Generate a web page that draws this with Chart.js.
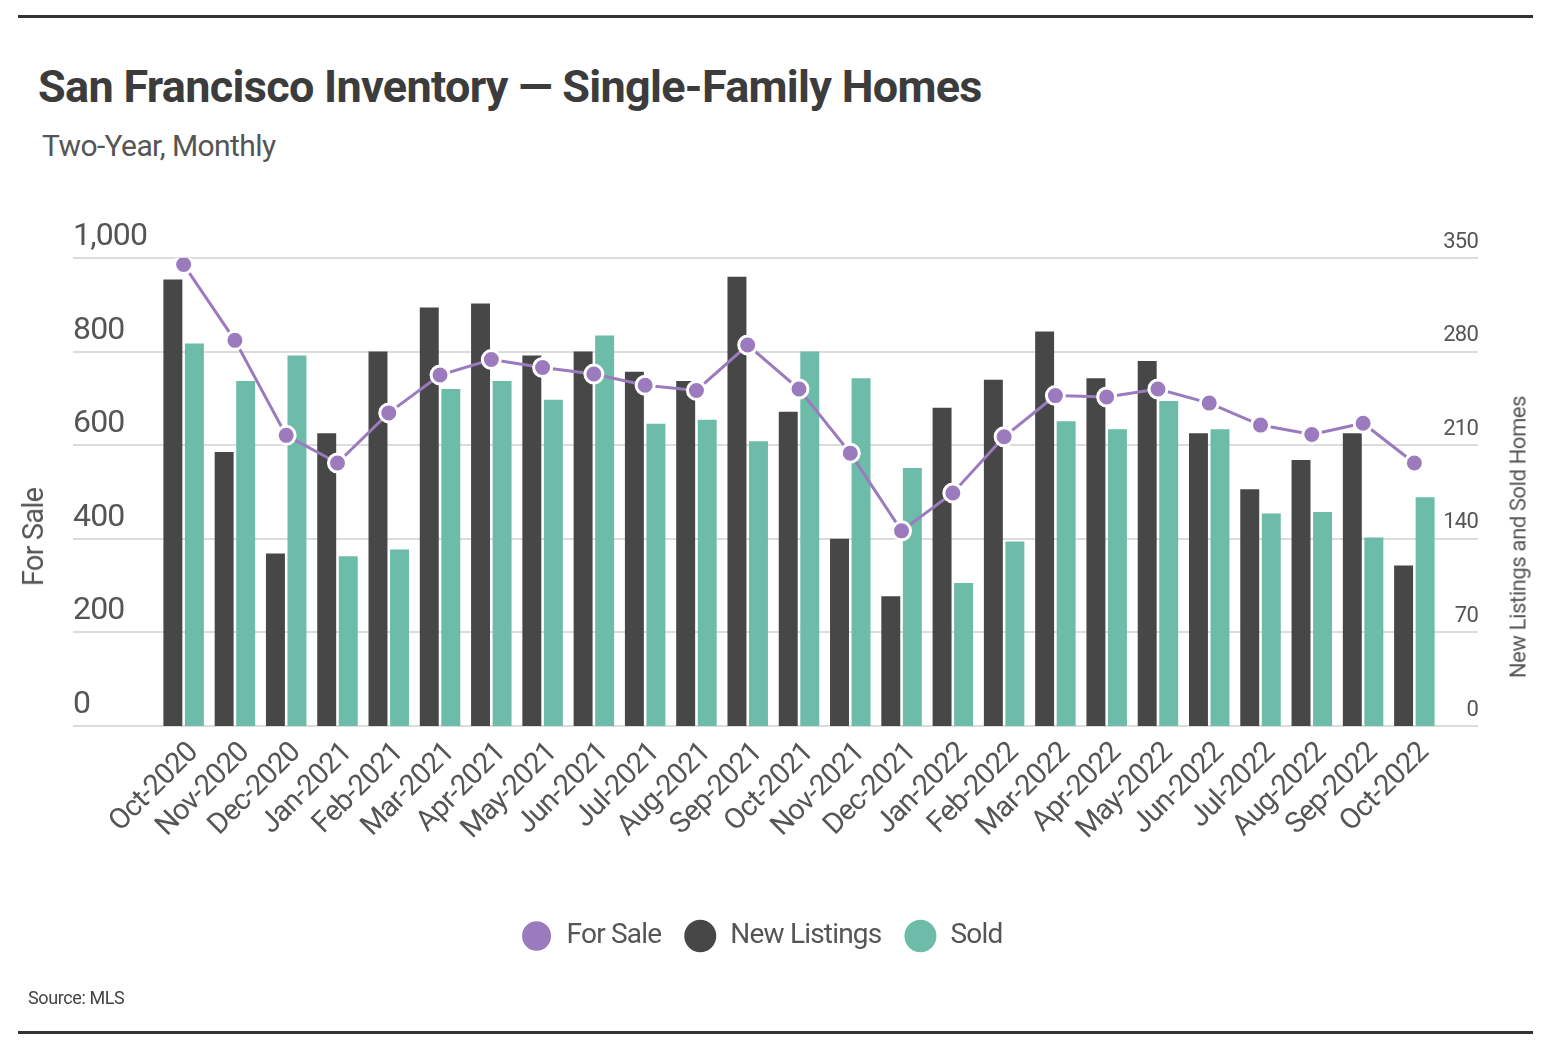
<!DOCTYPE html>
<html>
<head>
<meta charset="utf-8">
<script src="https://cdn.jsdelivr.net/npm/chart.js@4.4.0/dist/chart.umd.min.js"></script>
<style>
  html, body { margin: 0; padding: 0; background: #fff; }
  body { width: 1568px; height: 1062px; position: relative; overflow: hidden;
         font-family: Roboto, 'DejaVu Sans Condensed', sans-serif; }
  #wrap { position: absolute; left: 0; top: 0; width: 1568px; height: 1062px; }
  .rule { position: absolute; left: 18px; width: 1515px; height: 3px; background: #333; }
  #title { position: absolute; left: 38px; top: 60px; font-size: 45px; font-weight: bold; color: #3c3c3c; white-space: nowrap; letter-spacing: -0.7px; }
  #subtitle { position: absolute; left: 42px; top: 128px; font-size: 30px; color: #555; white-space: nowrap; letter-spacing: -0.6px; }
  #source { position: absolute; left: 28px; top: 987px; font-size: 18px; color: #444; white-space: nowrap; letter-spacing: -0.4px; }
  .ytitle { position: absolute; white-space: nowrap; color: #555; transform: translate(-50%, -50%) rotate(-90deg); }
  #ytitleL { left: 33px; top: 537px; font-size: 29px; letter-spacing: -0.8px; }
  #ytitleR { left: 1518px; top: 537px; font-size: 22px; letter-spacing: -0.4px; }
</style>
</head>
<body>
<div class="rule" style="top:15px"></div>
<div id="title">San Francisco Inventory — Single-Family Homes</div>
<div id="subtitle">Two-Year, Monthly</div>
<div id="wrap"><canvas id="c"></canvas></div>
<div class="ytitle" id="ytitleL">For Sale</div>
<div class="ytitle" id="ytitleR">New Listings and Sold Homes</div>
<div id="source">Source: MLS</div>
<div class="rule" style="top:1031px"></div>
<script>
const categories = ['Oct-2020','Nov-2020','Dec-2020','Jan-2021','Feb-2021','Mar-2021','Apr-2021','May-2021','Jun-2021','Jul-2021','Aug-2021','Sep-2021','Oct-2021','Nov-2021','Dec-2021','Jan-2022','Feb-2022','Mar-2022','Apr-2022','May-2022','Jun-2022','Jul-2022','Aug-2022','Sep-2022','Oct-2022'];
const forSale = [986, 824, 621, 562, 669, 750, 783, 766, 752, 728, 717, 814, 720, 583, 417, 498, 618, 706, 703, 720, 690, 643, 623, 647, 562];
const newListings = [334, 205, 129, 219, 280, 313, 316, 277, 280, 265, 258, 336, 235, 140, 97, 238, 259, 295, 260, 273, 219, 177, 199, 219, 120];
const sold = [286, 258, 277, 127, 132, 252, 258, 244, 292, 226, 229, 213, 280, 260, 193, 107, 138, 228, 222, 243, 222, 159, 160, 141, 171];
const leftTicks = { min: 0, max: 1000, step: 200 };
const rightTicks = { min: 0, max: 350, step: 70 };

const FONT = "Roboto, 'DejaVu Sans Condensed', sans-serif";
const LETTER_SPACING = '-0.8px';
const LEGEND_SHIFT = -14;

const spacingPlugin = {
  id: 'tightText',
  beforeUpdate(chart) { chart.ctx.letterSpacing = LETTER_SPACING; },
  beforeLayout(chart) { chart.ctx.letterSpacing = LETTER_SPACING; },
  afterLayout(chart) {
    if (chart.legend) { chart.legend.left += LEGEND_SHIFT; chart.legend.right += LEGEND_SHIFT; }
  },
  beforeDraw(chart) { chart.ctx.letterSpacing = LETTER_SPACING; }
};

const gridPlugin = {
  id: 'fullGrid',
  beforeDatasetsDraw(chart) {
    const y = chart.scales.y, y1 = chart.scales.y1;
    const ctx = chart.ctx;
    ctx.save();
    ctx.strokeStyle = '#dcdcdc';
    ctx.lineWidth = 2;
    y.ticks.forEach(t => {
      const py = Math.round(y.getPixelForValue(t.value));
      ctx.beginPath();
      ctx.moveTo(y.left, py);
      ctx.lineTo(y1.right, py);
      ctx.stroke();
    });
    ctx.restore();
  }
};

new Chart(document.getElementById('c'), {
  data: {
    labels: categories,
    datasets: [
      { type: 'line', label: 'For Sale', data: forSale, yAxisID: 'y', order: 0,
        borderColor: '#9b7bbd', backgroundColor: '#9b7bbd', borderWidth: 3,
        pointRadius: 9, pointBorderColor: '#ffffff', pointBorderWidth: 3,
        pointBackgroundColor: '#9b7bbd', tension: 0 },
      { type: 'bar', label: 'New Listings', data: newListings, yAxisID: 'y1', order: 1,
        backgroundColor: '#474747', categoryPercentage: 0.84, barPercentage: 0.88 },
      { type: 'bar', label: 'Sold', data: sold, yAxisID: 'y1', order: 2,
        backgroundColor: '#6dbba9', categoryPercentage: 0.84, barPercentage: 0.88 }
    ]
  },
  options: {
    responsive: true,
    maintainAspectRatio: false,
    animation: false,
    layout: { padding: { left: 73, right: 90, top: 258, bottom: 102 } },
    plugins: {
      tooltip: { enabled: false },
      legend: {
        position: 'bottom',
        labels: {
          usePointStyle: true, pointStyle: 'circle', pointStyleWidth: 32, boxHeight: 23,
          padding: 23, color: '#555', font: { family: FONT, size: 28 }
        }
      }
    },
    scales: {
      x: {
        grid: { display: false }, border: { display: false },
        ticks: { color: '#555', font: { family: FONT, size: 29 }, maxRotation: 45, minRotation: 45,
                 autoSkip: false, padding: 2, labelOffset: 10 },
        afterFit(scale) { scale.height = 173; }
      },
      y: {
        position: 'left', min: leftTicks.min, max: leftTicks.max,
        grid: { display: false }, border: { display: false },
        ticks: { stepSize: leftTicks.step, color: '#555', font: { family: FONT, size: 32 },
                 crossAlign: 'far', padding: 0, labelOffset: -21 },
        afterFit(scale) { scale.width = 85; }
      },
      y1: {
        position: 'right', min: rightTicks.min, max: rightTicks.max,
        grid: { display: false }, border: { display: false },
        ticks: { stepSize: rightTicks.step, color: '#555', font: { family: FONT, size: 22 },
                 crossAlign: 'far', padding: 0, labelOffset: -16 },
        afterFit(scale) { scale.width = 38; }
      }
    }
  },
  plugins: [spacingPlugin, gridPlugin]
});
</script>
</body>
</html>
